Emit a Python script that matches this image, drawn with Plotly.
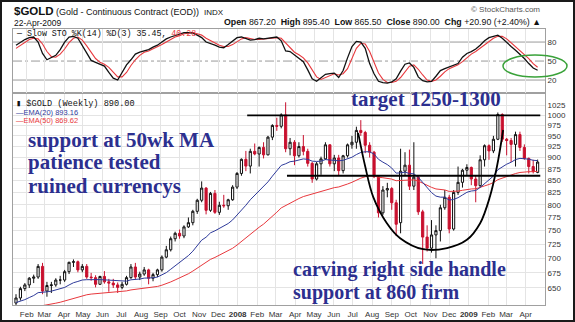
import math
import pandas as pd
import plotly.graph_objects as go

W, H = 575, 322
def px(x): return x / W
def py(y): return 1 - y / H

# ---------------- data ----------------
start = pd.Timestamp("2007-01-15")          # first weekly bar (Monday)
n_bars = 119
bar_idx = list(range(n_bars))

opens = [626,634,649,655,666,668,686,645,654,655,663,663,677,693,694,680,686,668,667,656,
         669,660,658,655,651,656,667,685,668,673,680,666,672,680,702,715,735,745,740,757,
         765,787,809,834,789,823,785,799,798,810,836,865,896,881,914,908,923,906,947,975,
         973,1001,920,935,904,925,914,887,853,886,897,929,886,899,871,904,929,935,963,958,
         928,912,858,784,830,833,804,765,870,883,838,857,786,738,718,742,750,794,815,753,
         825,846,872,878,853,839,895,927,915,942,1002,942,939,930,953,923,898,880,867.2]
highs = [640,652,658,668,672,690,692,660,660,666,670,680,694,698,696,690,690,675,671,670,
         678,665,665,659,660,670,690,692,677,685,682,675,682,705,722,739,748,752,760,775,
         790,812,848,836,826,830,806,820,812,840,868,898,915,920,932,925,935,950,978,994,
         1005,1033,945,940,935,952,920,890,890,902,935,930,906,906,906,932,950,972,988,962,
         935,915,860,838,845,836,810,920,912,918,935,860,790,760,770,760,800,830,820,830,
         880,875,885,880,860,905,930,930,950,1007,1005,945,945,960,960,930,900,895,895.4]
lows = [621,630,645,650,658,665,640,636,642,652,656,660,673,685,676,676,665,662,651,655,
        657,644,650,642,648,654,665,664,663,670,656,661,668,677,700,712,730,735,736,755,
        760,782,805,781,786,782,780,794,790,808,832,860,870,865,905,880,898,905,940,962,
        968,912,905,883,900,905,880,845,850,862,895,880,870,860,865,900,920,920,950,910,
        900,855,775,780,815,790,740,745,860,830,830,780,690,712,710,700,730,790,745,750,
        820,835,860,840,805,835,880,895,910,940,936,905,890,880,915,895,865,865,865.5]
closes = [634,649,655,666,668,686,645,654,655,663,663,677,693,694,680,686,668,667,656,669,
          660,658,655,651,656,667,685,668,673,680,666,672,680,702,715,735,745,740,757,765,
          787,809,834,789,823,785,799,798,810,836,865,896,881,914,908,923,906,947,975,973,
          1001,920,935,904,925,914,887,853,886,897,929,886,899,871,904,929,935,963,958,928,
          912,858,784,830,833,804,762,870,883,838,857,786,738,718,742,750,794,815,753,825,
          846,872,878,853,839,895,927,915,942,1002,942,939,930,953,923,898,880,869.1,890.0]

ema20 = [626.8,628.9,631.4,634.7,637.9,642.5,642.7,643.8,644.9,646.6,648.2,650.9,654.9,658.6,660.7,
         663.1,663.6,663.9,663.1,663.7,663.3,662.8,662.1,661.0,660.5,661.2,663.4,663.9,664.7,666.2,
         666.2,666.7,668.0,671.2,675.4,681.1,687.1,692.2,698.3,704.7,712.5,721.7,732.4,737.8,745.9,
         749.6,754.3,758.5,763.4,770.3,779.3,790.4,799.0,810.0,819.3,829.2,836.5,847.0,859.2,870.0,
         882.5,886.1,890.7,892.0,895.1,896.9,896.0,891.9,891.3,891.9,895.4,894.5,895.0,892.7,893.8,
         897.1,900.7,906.7,911.5,913.1,913.0,907.8,896.0,889.7,884.3,876.7,865.7,866.2,867.8,864.9,
         864.2,856.7,845.4,833.3,824.6,817.5,815.3,815.3,809.3,810.8,814.2,819.7,825.2,827.9,828.9,
         835.2,843.9,850.7,859.4,873.0,879.5,885.2,889.5,895.5,898.1,898.1,896.4,893.8,893.2]
ema50 = [610.9,612.5,614.1,616.2,618.2,620.8,621.8,623.1,624.3,625.8,627.3,629.2,631.7,634.2,636.0,
         637.9,639.1,640.2,640.8,641.9,642.6,643.2,643.7,644.0,644.5,645.3,646.9,647.7,648.7,649.9,
         650.6,651.4,652.5,654.5,656.8,659.9,663.2,666.3,669.8,673.5,678.0,683.1,689.0,693.0,698.1,
         701.5,705.3,708.9,712.9,717.7,723.5,730.3,736.2,743.1,749.6,756.4,762.3,769.5,777.6,785.2,
         793.7,798.6,804.0,807.9,812.5,816.5,819.2,820.6,823.1,826.0,830.1,832.3,834.9,836.3,838.9,
         842.5,846.1,850.7,854.9,857.8,859.9,859.8,856.9,855.8,854.9,852.9,849.4,850.2,851.5,850.9,
         851.2,848.6,844.3,839.3,835.5,832.2,830.7,830.1,827.0,827.0,827.7,829.4,831.3,832.2,832.5,
         834.9,838.5,841.5,845.5,851.6,855.1,858.4,861.2,864.8,867.1,868.3,868.8,868.8,869.6]

sto_k = [75,80,84,87,88,80,62,52,56,59,68,80,88,89,86,75,62,51,48,45,
         42,32,23,20,32,44,52,61,64,66,68,72,75,80,85,88,90,93,95,95,
         94,91,87,80,78,75,72,71,76,81,87,88,85,83,84,86,85,86,88,88,
         82,66,65,60,55,49,36,22,18,24,29,30,31,24,35,55,73,81,80,70,
         46,30,18,16,15,17,22,34,45,47,40,25,19,17,18,26,35,38,41,44,
         46,56,62,65,69,75,82,87,89,91,86,79,73,67,61,54,46,39,35.45]
sto_d = [70,75,80,84,86,85,77,65,57,56,61,69,79,86,88,83,74,63,54,48,
         45,40,32,25,25,32,43,52,59,64,66,69,72,76,80,84,88,90,93,94,
         95,93,91,86,82,78,75,73,73,76,81,85,87,85,84,84,85,86,86,87,
         86,79,71,64,60,55,47,36,25,21,24,28,30,28,30,38,54,70,78,77,
         65,49,31,21,16,16,18,24,34,42,44,37,28,20,18,20,26,33,38,41,
         44,49,55,61,65,70,75,81,86,89,89,85,79,73,67,61,54,46,40.28]

price_ticks = [650,675,700,725,750,775,800,825,850,875,900,925,950,975,1000,1025]
sto_ticks = [20, 50, 80]

# hand-drawn annotation lines (bar index, price)
resist_x, resist_y = [52.3, 118.6], [1000, 1000]
support_x, support_y = [61.3, 118.6], [860, 860]
cup_x = [77.4, 79.0, 80.8, 83.9, 86.9, 92.1, 97.5, 102.0, 105.0, 107.2, 108.8, 110.2]
cup_y = [957, 880, 816, 764, 736, 716, 718, 733, 764, 816, 880, 964]

# month ticks
months = pd.date_range("2007-02-01", "2009-04-01", freq="MS")
tickvals = [(m - start).days / 7 for m in months]
ticktext = [f"<b>{m.year}</b>" if m.month == 1 else m.strftime("%b") for m in months]

# ---------------- layout geometry ----------------
X0, X1 = px(13), px(545)
STO_TOP, STO_BOT = py(29.4), py(92.7)
MAIN_TOP, MAIN_BOT = py(92.7), py(305)
xr = [-0.68, 119.67]

fig = go.Figure()

fig.add_trace(go.Scatter(x=bar_idx, y=ema50, mode="lines", line=dict(color="#e8383d", width=1),
                         xaxis="x", yaxis="y", showlegend=False, hoverinfo="skip"))
fig.add_trace(go.Scatter(x=bar_idx, y=ema20, mode="lines", line=dict(color="#2e3a9a", width=1),
                         xaxis="x", yaxis="y", showlegend=False, hoverinfo="skip"))
fig.add_trace(go.Candlestick(x=bar_idx, open=opens, high=highs, low=lows, close=closes,
                             increasing=dict(line=dict(color="#111111", width=1), fillcolor="white"),
                             decreasing=dict(line=dict(color="#c8102e", width=1), fillcolor="#c8102e"),
                             whiskerwidth=0, xaxis="x", yaxis="y", showlegend=False, hoverinfo="skip"))
for xs, ys in [(resist_x, resist_y), (support_x, support_y)]:
    fig.add_trace(go.Scatter(x=xs, y=ys, mode="lines", line=dict(color="black", width=1.8),
                             xaxis="x", yaxis="y", showlegend=False, hoverinfo="skip"))
fig.add_trace(go.Scatter(x=cup_x, y=cup_y, mode="lines", line=dict(color="black", width=1.8, shape="spline"),
                         xaxis="x", yaxis="y", showlegend=False, hoverinfo="skip"))

fig.add_trace(go.Scatter(x=bar_idx, y=sto_d, mode="lines", line=dict(color="#e8383d", width=1.1),
                         xaxis="x2", yaxis="y2", showlegend=False, hoverinfo="skip"))
fig.add_trace(go.Scatter(x=bar_idx, y=sto_k, mode="lines", line=dict(color="#111111", width=1.3),
                         xaxis="x2", yaxis="y2", showlegend=False, hoverinfo="skip"))

axis_font = dict(family="Liberation Sans, Arial", size=8, color="#333333")
fig.update_layout(
    width=W, height=H, margin=dict(l=0, r=0, t=0, b=0),
    paper_bgcolor="white", plot_bgcolor="white",
    xaxis=dict(domain=[X0, X1], anchor="y", range=xr, tickmode="array", tickvals=tickvals,
               ticktext=ticktext, showgrid=True, gridcolor="#e4e4e4", gridwidth=1, zeroline=False,
               showline=True, mirror=True, linecolor="#a0a0a0", ticks="", tickfont=axis_font,
               rangeslider=dict(visible=False), ticklabelstandoff=1),
    yaxis=dict(domain=[MAIN_BOT, MAIN_TOP], anchor="x", type="log",
               range=[math.log10(623), math.log10(1058)], side="right", tickmode="array",
               tickvals=price_ticks, ticktext=[str(v) for v in price_ticks], showgrid=True,
               gridcolor="#e4e4e4", zeroline=False, showline=True, mirror=True, linecolor="#a0a0a0",
               ticks="", tickfont=axis_font),
    xaxis2=dict(domain=[X0, X1], anchor="y2", range=xr, tickmode="array", tickvals=tickvals,
                showticklabels=False, showgrid=True, gridcolor="#e4e4e4", zeroline=False,
                showline=True, mirror=True, linecolor="#a0a0a0", ticks=""),
    yaxis2=dict(domain=[STO_BOT, STO_TOP], anchor="x2", range=[0, 100], side="right",
                tickmode="array", tickvals=sto_ticks, ticktext=[str(v) for v in sto_ticks],
                showgrid=False, zeroline=False, showline=True, mirror=True, linecolor="#a0a0a0",
                ticks="", tickfont=axis_font),
)

shapes = []
for v in sto_ticks:
    shapes.append(dict(type="line", xref="paper", yref="y2", x0=X0, x1=X1, y0=v, y1=v, layer="below",
                       line=dict(color="#9a9a9a", width=1, dash="dashdot" if v == 50 else "solid")))
shapes.append(dict(type="circle", xref="paper", yref="paper", x0=px(503), x1=px(567),
                   y0=py(77), y1=py(55), line=dict(color="#3aa23a", width=1.5)))
shapes.append(dict(type="rect", xref="paper", yref="paper", x0=0, x1=1, y0=0, y1=1,
                   line=dict(color="#1a1a1a", width=4)))
fig.update_layout(shapes=shapes)

sans = "Liberation Sans, Arial"
mono = "Liberation Mono, DejaVu Sans Mono"
serif = "Liberation Serif, Times New Roman"
navy = "#2c2f8f"
ann = []
def add(text, x, y, size, color="#111111", family=sans, xanchor="left", yanchor="middle"):
    ann.append(dict(text=text, x=px(x), y=py(y), xref="paper", yref="paper", showarrow=False,
                    xanchor=xanchor, yanchor=yanchor, font=dict(family=family, size=size, color=color)))

add("<b>$GOLD</b>", 12, 11.5, 11.5)
add("(Gold - Continuous Contract (EOD))  <span style='font-size:8px'>INDX</span>", 54, 12, 9)
add("22-Apr-2009", 12, 23, 8.5)
add("© StockCharts.com", 542, 10, 8, color="#555555", xanchor="right")
add("<b>Open</b> 867.20  <b>High</b> 895.40  <b>Low</b> 865.50  <b>Close</b> 890.00  "
    "<b>Chg</b> +20.90 (+2.40%) ▲", 543, 22.5, 8.8, xanchor="right")
add("— Slow STO %K(14) %D(3) 35.45, <span style='color:#e8383d'>40.28</span>", 14, 33, 8.3, family=mono)
add("▮ $GOLD (Weekly) 890.00", 14, 104.5, 8.6, family=mono)
add("—EMA(20) 893.16", 14, 112.5, 7.5, color="#2e3a9a")
add("—EMA(50) 869.62", 14, 120, 7.5, color="#e8383d")

add("<b>support at 50wk MA</b>", 26, 140, 21, color=navy, family=serif)
add("<b>patience tested</b>", 26, 162, 21, color=navy, family=serif)
add("<b>ruined currencys</b>", 26, 186, 21, color=navy, family=serif)
add("<b>target 1250-1300</b>", 426, 99, 21, color=navy, family=serif, xanchor="center")
add("<b>carving right side handle</b>", 291, 269.5, 20, color=navy, family=serif)
add("<b>support at 860 firm</b>", 291, 292, 20, color=navy, family=serif)
fig.update_layout(annotations=ann)

fig.write_html("out.html")
